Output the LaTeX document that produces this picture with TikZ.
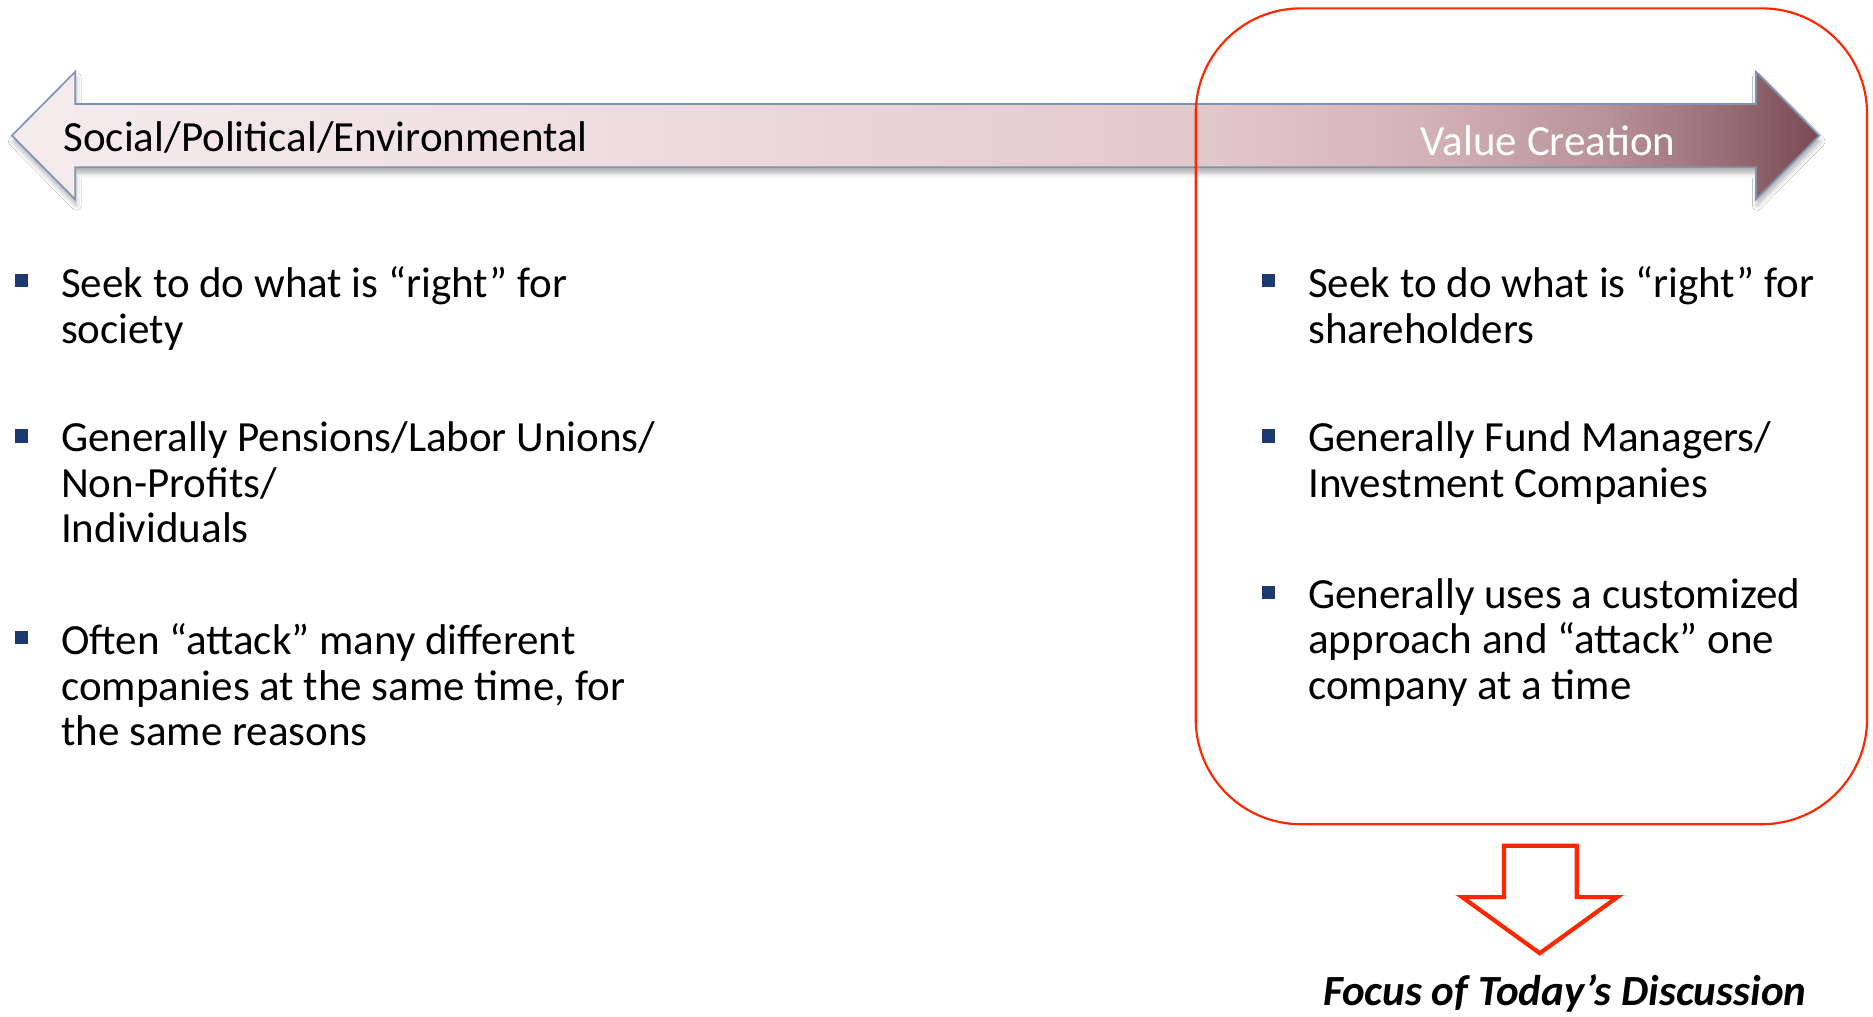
\documentclass[tikz,border=0pt]{standalone}
\usepackage{fontspec}
\setmainfont{Carlito}
\usetikzlibrary{shadows.blur}

\definecolor{sh0}{HTML}{F5ECEE}
\definecolor{sh1}{HTML}{EEDEE1}
\definecolor{sh2}{HTML}{E2C8CB}
\definecolor{sh3}{HTML}{D4B3B7}
\definecolor{sh4}{HTML}{B89399}
\definecolor{sh5}{HTML}{966C73}
\definecolor{sh6}{HTML}{7A4A52}
\definecolor{arrowline}{HTML}{7F93B2}
\definecolor{bulletnavy}{HTML}{1C3A70}
\definecolor{focusred}{HTML}{FF2600}

\pgfdeclarehorizontalshading{spectrumshade}{100bp}{%
  color(0bp)=(sh0); color(25bp)=(sh0); color(41bp)=(sh1);
  color(58bp)=(sh2); color(64bp)=(sh3); color(69bp)=(sh4);
  color(72.5bp)=(sh5); color(75bp)=(sh6); color(100bp)=(sh6)}

\begin{document}
\begin{tikzpicture}[x=1pt,y=-1pt,
  bodytext/.style={font=\fontsize{36}{38}\selectfont, anchor=north west,
    align=left, inner sep=0pt},
  bulletsq/.style={fill=bulletnavy, minimum size=11pt, inner sep=0pt},
  headtext/.style={font=\fontsize{36}{40}\selectfont, inner sep=0pt}]

\useasboundingbox (0,0) rectangle (1568,851);
\fill[white] (0,0) rectangle (1568,851);

% double-headed spectrum arrow
\shadedraw[shading=spectrumshade, draw=arrowline, line width=1.4pt,
  line join=miter,
  blur shadow={shadow xshift=1pt, shadow yshift=-5pt,
    shadow blur radius=4pt, shadow opacity=30}]
  (10,113.5) -- (63,60) -- (63,87) -- (1470,87) -- (1470,60)
  -- (1523,113.5) -- (1470,167) -- (1470,140) -- (63,140)
  -- (63,167) -- cycle;

\node[headtext, anchor=base west] (spe) at (53,127) {Social/Political/Environmental};
\node[headtext, text=white] (val) at (1296,118) {Value Creation};

% highlighted region
\draw[focusred, line width=1.8pt, rounded corners=88pt]
  (1001,7) rectangle (1563,690);

% left column (node tops sit one ascent above the first baseline)
\node[bulletsq] (lb1) at (18,235) {};
\node[bodytext] (lt1) at (51,223) {Seek to do what is “right” for\\society};
\node[bulletsq] (lb2) at (18,365) {};
\node[bodytext] (lt2) at (51,353) {Generally Pensions/Labor Unions/\\Non-Profits/\\Individuals};
\node[bulletsq] (lb3) at (18,534) {};
\node[bodytext] (lt3) at (51,522) {Often “attack” many different\\companies at the same time, for\\the same reasons};

% right column
\node[bulletsq] (rb1) at (1062,235) {};
\node[bodytext] (rt1) at (1095,223) {Seek to do what is “right” for\\shareholders};
\node[bulletsq] (rb2) at (1062,365) {};
\node[bodytext] (rt2) at (1095,353) {Generally Fund Managers/\\Investment Companies};
\node[bulletsq] (rb3) at (1062,496) {};
\node[bodytext] (rt3) at (1095,484) {Generally uses a customized\\approach and “attack” one\\company at a time};

% down arrow to the caption
\draw[focusred, line width=3.5pt, fill=white, line join=miter]
  (1259,708) -- (1320,708) -- (1320,751) -- (1354,751) -- (1289,798)
  -- (1224,751) -- (1259,751) -- cycle;

\node[font=\fontsize{36}{40}\selectfont\bfseries\itshape, inner sep=0pt]
  (foc) at (1310,832) {Focus of Today’s Discussion};
\end{tikzpicture}
\end{document}
